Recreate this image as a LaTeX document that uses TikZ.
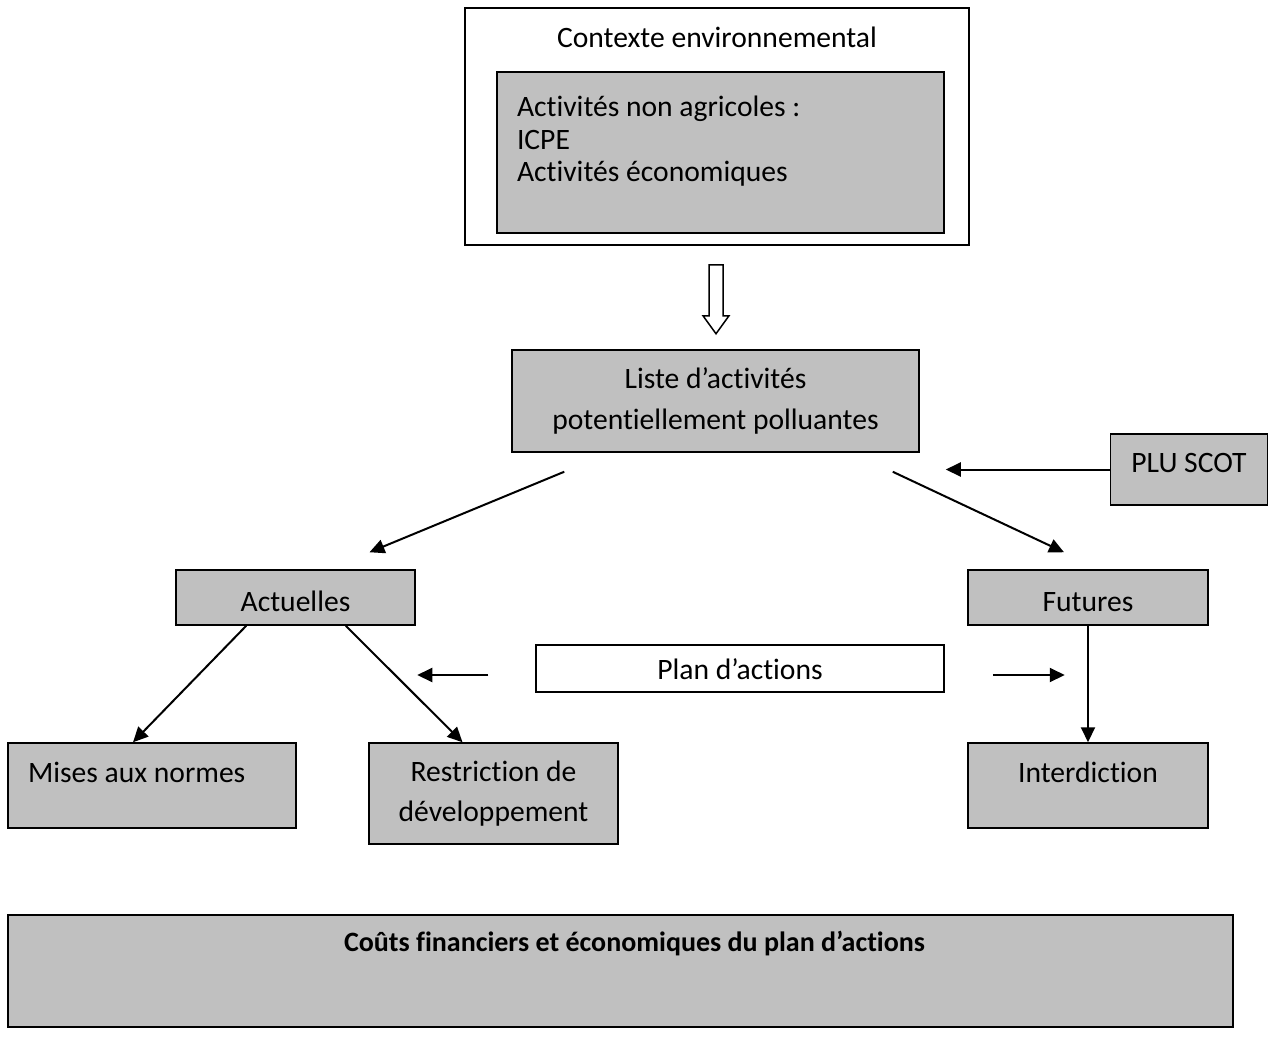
\documentclass[tikz,border=0pt]{standalone}
\usepackage{fontspec}
\setmainfont{Carlito}[Ligatures={NoCommon}]
\usepackage{tikz}
\usetikzlibrary{arrows.meta,positioning,calc}
\definecolor{boxgray}{HTML}{C0C0C0}

\begin{document}
\begin{tikzpicture}[x=0.5pt,y=-0.5pt,
  every node/.style={font=\fontsize{14.8}{16.25}\selectfont,align=center,inner sep=0pt},
  graybox/.style={draw,fill=boxgray,line width=0.75pt},
  whitebox/.style={draw,fill=white,line width=0.75pt},
  lefttext/.style={align=left,text width=#1,execute at begin node={\spaceskip=0pt\xspaceskip=0pt\relax}},
  arr/.style={-{Triangle[length=7.5pt,width=7pt]},line width=1pt}]
\useasboundingbox (0,0) rectangle (1270,1039);
\node[whitebox,minimum width=252pt,minimum height=118.5pt,text height=10pt,text depth=89.1pt] (ctx) at (717,126.5) {Contexte environnemental};
\node[graybox,minimum width=223.5pt,minimum height=80.5pt,lefttext=203.5pt,text height=10pt,text depth=45.6pt] (acts) at (720.5,152.5) {Activités non agricoles :\\ICPE\\Activités économiques};
\node[graybox,minimum width=203.5pt,minimum height=51pt] (liste) at (715.5,401) {Liste d’activités\\[4.25pt]potentiellement polluantes};
\node[graybox,minimum width=78.5pt,minimum height=35.5pt,text height=10pt,text depth=7pt] (plu) at (1189,469.5) {PLU SCOT};
\node[graybox,minimum width=119.5pt,minimum height=27.5pt,text height=14pt,text depth=0pt] (actuelles) at (295.5,597.5) {Actuelles};
\node[graybox,minimum width=120pt,minimum height=27.5pt,text height=14pt,text depth=0pt] (futures) at (1088,597.5) {Futures};
\node[whitebox,minimum width=204pt,minimum height=23.5pt,text height=11pt,text depth=0pt] (plan) at (740,668.5) {Plan d’actions};
\node[graybox,minimum width=144pt,minimum height=42.5pt,lefttext=124pt,text height=10pt,text depth=13.1pt] (mises) at (152,785.5) {Mises aux normes};
\node[graybox,minimum width=124.5pt,minimum height=50.5pt] (restr) at (493.5,793.5) {Restriction de\\[3.75pt]développement};
\node[graybox,minimum width=120pt,minimum height=42.5pt,text height=10pt,text depth=13.1pt] (interd) at (1088,785.5) {Interdiction};
\node[graybox,minimum width=612.5pt,minimum height=56pt,text height=10pt,text depth=29.6pt,font=\fontsize{14}{16.25}\selectfont\bfseries] (couts) at (620.5,971) {\hspace*{14pt}Coûts financiers et économiques du plan d’actions};
% hollow arrow
\draw[fill=white,line width=0.75pt] ($(ctx.south)+(-8,19)$) -- ++(14,0) -- ++(0,51) -- ++(6,0) -- ++(-13,18) -- ++(-13,-18) -- ++(6,0) -- cycle;
\draw[arr] (plu.west) -- ($(plu.west -| liste.east)+(26,0)$);
\draw[arr] ($(liste.south west)+(53,19)$) -- ($(actuelles.north)+(74,-17)$);
\draw[arr] ($(liste.south east)+(-27,19)$) -- ($(futures.north)+(-24,-17)$);
\draw[arr] ($(plan.west)+(-47,6.5)$) -- ($(plan.west)+(-118,6.5)$);
\draw[arr] ($(plan.east)+(48,6.5)$) -- ($(plan.east)+(120,6.5)$);
\draw[arr] ($(actuelles.south west)+(71,0)$) -- ($(mises.north)+(-19,0)$);
\draw[arr] ($(actuelles.south east)+(-70,0)$) -- ($(restr.north)+(-31,0)$);
\draw[arr] (futures.south) -- (interd.north);
\end{tikzpicture}
\end{document}
